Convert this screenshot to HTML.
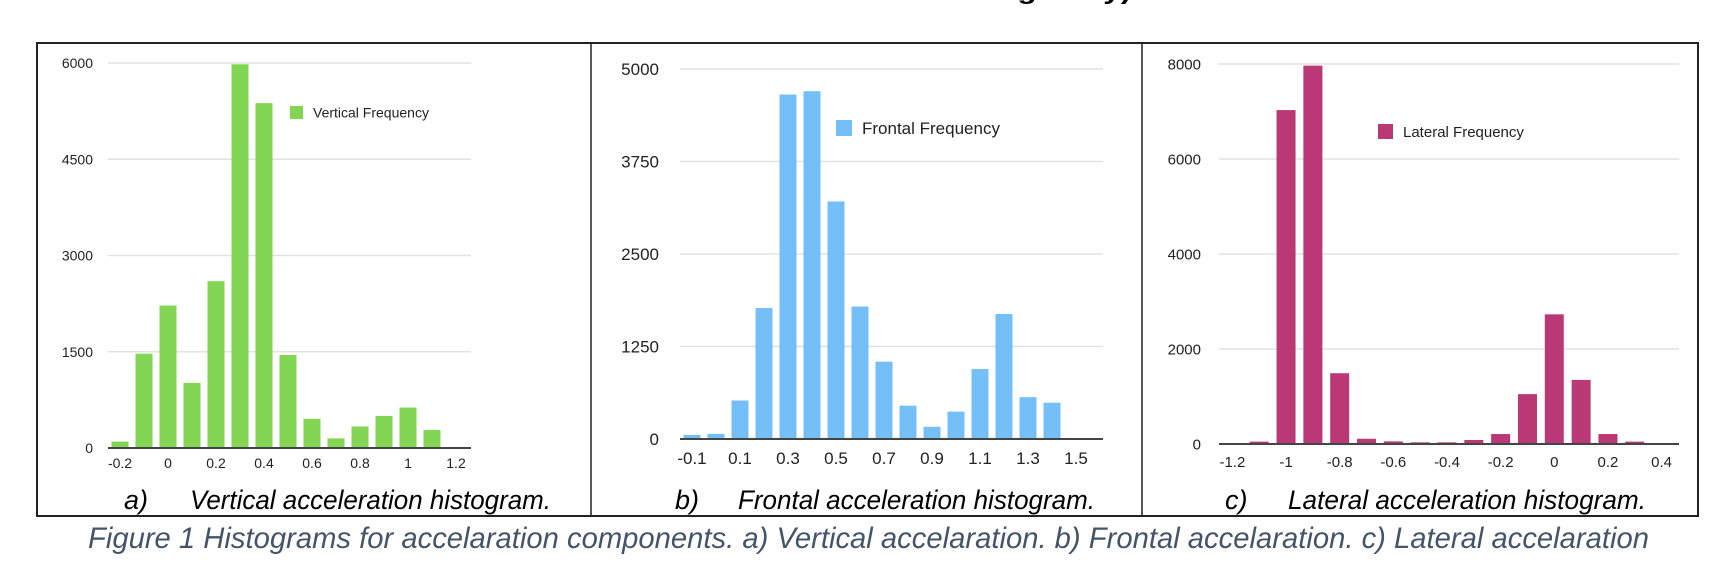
<!DOCTYPE html>
<html><head><meta charset="utf-8">
<style>
html,body{margin:0;padding:0;background:#fff;}
svg{display:block;}
text{font-family:"Liberation Sans",Arial,sans-serif;}
.cap{font-family:"Liberation Sans",sans-serif;font-style:italic;}
</style></head>
<body>
<svg id="fig" width="1728" height="572" viewBox="0 0 1728 572" xmlns="http://www.w3.org/2000/svg">
  <text x="440" y="-1" font-size="24" font-weight="bold" textLength="700" lengthAdjust="spacingAndGlyphs">Acceleration is measured as a ratio of gravity).</text>
  <rect x="37" y="43" width="1661" height="473" fill="none" stroke="#222" stroke-width="2"/>
  <line x1="591" y1="43" x2="591" y2="516" stroke="#222" stroke-width="1.5"/>
  <line x1="1142" y1="43" x2="1142" y2="516" stroke="#222" stroke-width="1.5"/>
  <g id="c1"></g>
  <g id="c2"></g>
  <g id="c3"></g>
  <text class="cap" x="124" y="509" font-size="27">a)</text>
  <text class="cap" x="190" y="509" font-size="27" textLength="361" lengthAdjust="spacingAndGlyphs">Vertical acceleration histogram.</text>
  <text class="cap" x="675" y="509" font-size="27">b)</text>
  <text class="cap" x="738" y="509" font-size="27" textLength="357" lengthAdjust="spacingAndGlyphs">Frontal acceleration histogram.</text>
  <text class="cap" x="1225" y="509" font-size="27">c)</text>
  <text class="cap" x="1288" y="509" font-size="27" textLength="358" lengthAdjust="spacingAndGlyphs">Lateral acceleration histogram.</text>
  <text class="cap" x="88" y="548" font-size="30" fill="#44546a" textLength="1561" lengthAdjust="spacingAndGlyphs">Figure 1 Histograms for accelaration components. a) Vertical accelaration. b) Frontal accelaration. c) Lateral accelaration</text>
</svg>
<script>
// Vertical histogram data
const vCategories = ["-0.2","-0.1","0","0.1","0.2","0.3","0.4","0.5","0.6","0.7","0.8","0.9","1","1.1","1.2"];
const vValues = [100,1470,2220,1015,2600,5980,5375,1450,455,150,335,500,630,280,0];
const vTicks = [0,1500,3000,4500,6000];
// Frontal histogram data
const fCategories = ["-0.1","0","0.1","0.2","0.3","0.4","0.5","0.6","0.7","0.8","0.9","1","1.1","1.2","1.3","1.4","1.5"];
const fValues = [55,70,520,1770,4655,4700,3210,1790,1045,450,165,370,945,1690,565,490,0];
const fTicks = [0,1250,2500,3750,5000];
// Lateral histogram data
const lCategories = ["-1.2","-1.1","-1","-0.9","-0.8","-0.7","-0.6","-0.5","-0.4","-0.3","-0.2","-0.1","0","0.1","0.2","0.3","0.4"];
const lValues = [0,50,7030,7965,1490,110,55,35,35,85,210,1050,2730,1350,210,50,0];
const lTicks = [0,2000,4000,6000,8000];

const NS = "http://www.w3.org/2000/svg";
function mk(tag, attrs, parent){
  const e = document.createElementNS(NS, tag);
  for (const k in attrs) e.setAttribute(k, attrs[k]);
  parent.appendChild(e);
  return e;
}
function drawChart(cfg){
  const g = document.getElementById(cfg.id);
  const yMax = cfg.ticks[cfg.ticks.length-1];
  const yScale = v => cfg.y0 - (v / yMax) * (cfg.y0 - cfg.yTop);
  const slot = (cfg.xEnd - cfg.x0) / cfg.cats.length;
  const xCenter = i => cfg.x0 + slot * (i + 0.5);
  cfg.ticks.forEach(t => {
    if (t > 0) {
      const gl = mk("line", {x1: cfg.x0, x2: cfg.gridEnd, y1: yScale(t), y2: yScale(t), stroke: "#e2e2e2", "stroke-width": 1.5}, g);
      
      
    }
    const tl = mk("text", {x: cfg.labelRight, y: yScale(t) + cfg.fs*0.36, "font-size": cfg.fs, "text-anchor": "end", fill: "#222"}, g);
    tl.textContent = t;
    
    
  });
  cfg.vals.forEach((v, i) => {
    if (v <= 0) return;
    const y = yScale(v);
    const b = mk("rect", {x: xCenter(i) - cfg.barW/2, y: y, width: cfg.barW, height: cfg.y0 - y, fill: cfg.color}, g);
    
    
  });
  const ax = mk("line", {x1: cfg.x0, x2: cfg.gridEnd, y1: cfg.y0, y2: cfg.y0, stroke: "#444", "stroke-width": 2}, g);
  
  
  cfg.cats.forEach((c, i) => {
    if (i % 2 !== 0) return;
    const xl = mk("text", {x: xCenter(i), y: cfg.xLabelY, "font-size": cfg.fs, "text-anchor": "middle", fill: "#222"}, g);
    xl.textContent = c;
    
    
  });
  const ls = mk("rect", {x: cfg.legX, y: cfg.legY, width: cfg.legS, height: cfg.legS, fill: cfg.color}, g);
  
  
  const lt = mk("text", {x: cfg.legX + cfg.legS + 10, y: cfg.legY + cfg.legS*0.5 + cfg.legFs*0.36, "font-size": cfg.legFs, fill: "#222"}, g);
  lt.textContent = cfg.legend;
  
  
}
drawChart({id:"c1", cats:vCategories, vals:vValues, ticks:vTicks, color:"#82d653",
  x0:108, xEnd:468, gridEnd:471, y0:448, yTop:63, barW:17, labelRight:93, fs:14, xLabelY:468,
  legX:290, legY:106, legS:13, legFs:14, legend:"Vertical Frequency"});
drawChart({id:"c2", cats:fCategories, vals:fValues, ticks:fTicks, color:"#74bff8",
  x0:680, xEnd:1088, gridEnd:1103, y0:439, yTop:69, barW:17, labelRight:659, fs:17, xLabelY:464,
  legX:836, legY:120, legS:16, legFs:17, legend:"Frontal Frequency"});
drawChart({id:"c3", cats:lCategories, vals:lValues, ticks:lTicks, color:"#bb3877",
  x0:1219, xEnd:1675, gridEnd:1679, y0:444, yTop:64, barW:19, labelRight:1201, fs:15, xLabelY:467,
  legX:1378, legY:124, legS:15, legFs:15, legend:"Lateral Frequency"});
</script>
</body></html>
